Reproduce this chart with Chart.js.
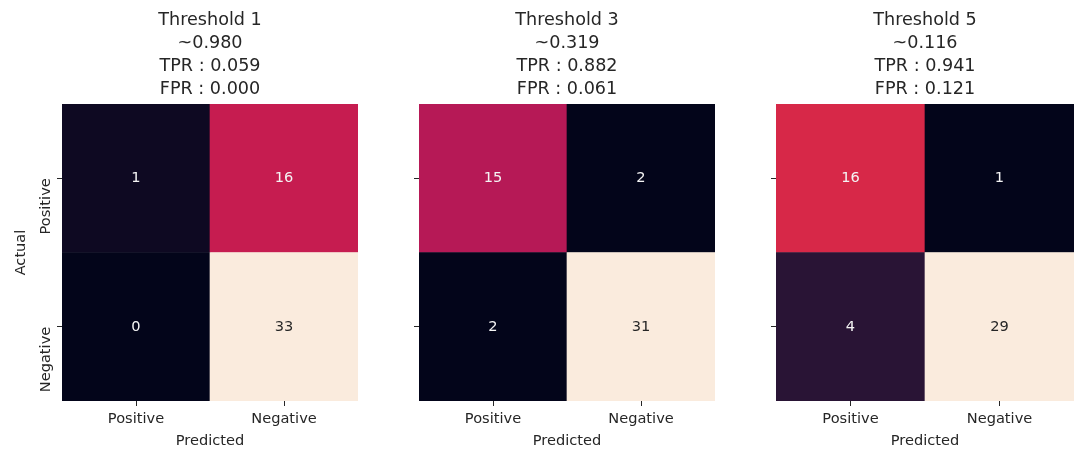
<!DOCTYPE html>
<html>
<head>
<meta charset="utf-8">
<script src="https://cdn.jsdelivr.net/npm/chart.js@4"></script>
<style>
body { margin: 0; background: #fff; }
canvas { position: absolute; top: 0; }
</style>
</head>
<body>
<canvas id="cm1" width="362" height="453" style="left:0px"></canvas>
<canvas id="cm2" width="362" height="453" style="left:357px"></canvas>
<canvas id="cm3" width="360" height="453" style="left:714px"></canvas>
<script>
// labels for both axes (rows = actual, columns = predicted)
var categories = ['Positive', 'Negative'];

var thresholdNames = ['Threshold 1', 'Threshold 3', 'Threshold 5'];
var thresholdValues = ['~0.980', '~0.319', '~0.116'];
var tprValues = ['0.059', '0.882', '0.941'];
var fprValues = ['0.000', '0.061', '0.121'];

// confusion matrices, [actual row][predicted col]
var matrix1 = [[1, 16], [0, 33]];
var matrix2 = [[15, 2], [2, 31]];
var matrix3 = [[16, 1], [4, 29]];

var FONT = "'DejaVu Sans', sans-serif";
var TXT = '#262626';

// rocket colormap stops
var rocket = [
  [0.0, [3, 5, 26]],
  [1/7, [53, 25, 62]],
  [2/7, [112, 31, 87]],
  [3/7, [173, 23, 89]],
  [0.5, [205, 29, 77]],
  [4/7, [225, 51, 66]],
  [5/7, [243, 118, 81]],
  [6/7, [246, 180, 143]],
  [1.0, [250, 235, 221]]
];

function rocketRgb(t) {
  t = Math.max(0, Math.min(1, t));
  for (var i = 1; i < rocket.length; i++) {
    if (t <= rocket[i][0]) {
      var a = rocket[i-1], b = rocket[i];
      var f = (t - a[0]) / (b[0] - a[0]);
      return [0, 1, 2].map(function(k) { return Math.round(a[1][k] + (b[1][k] - a[1][k]) * f); });
    }
  }
  return rocket[rocket.length-1][1];
}

function lum(c) {
  var v = c.map(function(x) {
    x = x / 255;
    return x <= 0.03928 ? x / 12.92 : Math.pow((x + 0.055) / 1.055, 2.4);
  });
  return 0.2126 * v[0] + 0.7152 * v[1] + 0.0722 * v[2];
}

// writes the count in each cell
var annotate = {
  id: 'annotate',
  afterDatasetsDraw: function(chart) {
    var ctx = chart.ctx;
    ctx.save();
    ctx.font = '14.6px ' + FONT;
    ctx.textAlign = 'center';
    ctx.textBaseline = 'middle';
    chart.data.datasets.forEach(function(ds, di) {
      chart.getDatasetMeta(di).data.forEach(function(bar, i) {
        var c = ds.cellRgb[i];
        ctx.fillStyle = lum(c) > 0.408 ? TXT : '#f4f4f4';
        ctx.fillText(String(ds.counts[i]), bar.x, (bar.y + bar.base) / 2);
      });
    });
    ctx.restore();
  }
};

function makeChart(id, m, k) {
  var flat = m[0].concat(m[1]);
  var lo = Math.min.apply(null, flat), hi = Math.max.apply(null, flat);
  var rowSet = function(row) {
    var rgb = row.map(function(v) { return rocketRgb((v - lo) / (hi - lo)); });
    return {
      data: row.map(function() { return 1; }),
      counts: row,
      cellRgb: rgb,
      backgroundColor: rgb.map(function(c) { return 'rgb(' + c.join(',') + ')'; }),
      borderWidth: 0,
      barPercentage: 1,
      categoryPercentage: 1
    };
  };
  var first = k === 0;
  new Chart(document.getElementById(id), {
    type: 'bar',
    data: {
      labels: categories,
      // bottom row first when stacked
      datasets: [rowSet(m[1]), rowSet(m[0])]
    },
    plugins: [annotate],
    options: {
      responsive: false,
      animation: false,
      layout: { padding: { left: 0, right: id === 'cm3' ? 0 : 4, top: 0, bottom: 0 } },
      plugins: {
        legend: { display: false },
        tooltip: { enabled: false },
        title: {
          display: true,
          fullSize: false,
          text: [thresholdNames[k], thresholdValues[k], 'TPR : ' + tprValues[k], 'FPR : ' + fprValues[k]],
          color: TXT,
          font: { family: FONT, size: 17.6, weight: 'normal', lineHeight: 23 / 17.6 },
          padding: { top: 9, bottom: 3 }
        }
      },
      scales: {
        x: {
          stacked: true,
          grid: { display: true, drawOnChartArea: false, offset: false, tickLength: 5, tickColor: TXT },
          border: { display: false },
          ticks: { color: TXT, font: { family: FONT, size: 14.6 }, padding: 4, maxRotation: 0 },
          title: { display: true, text: 'Predicted', color: TXT, font: { family: FONT, size: 14.6 }, padding: { top: 0, bottom: 3.5 } },
          afterFit: function(s) { s.height = 52; }
        },
        y: {
          stacked: true,
          min: 0,
          max: 2,
          grid: { display: true, drawOnChartArea: false, tickLength: 5, tickColor: TXT },
          border: { display: false },
          afterBuildTicks: function(s) { s.ticks = [{ value: 0.5 }, { value: 1.5 }]; },
          ticks: {
            display: first,
            color: TXT,
            font: { family: FONT, size: 14.6 },
            minRotation: 90,
            maxRotation: 90,
            padding: 11,
            callback: function(v) { return v > 1 ? categories[0] : categories[1]; }
          },
          title: { display: first, text: 'Actual', color: TXT, font: { family: FONT, size: 14.6 }, padding: { top: 12, bottom: 0 } },
          afterFit: function(s) { s.width = 62; }
        }
      }
    }
  });
}

makeChart('cm1', matrix1, 0);
makeChart('cm2', matrix2, 1);
makeChart('cm3', matrix3, 2);
</script>
</body>
</html>
